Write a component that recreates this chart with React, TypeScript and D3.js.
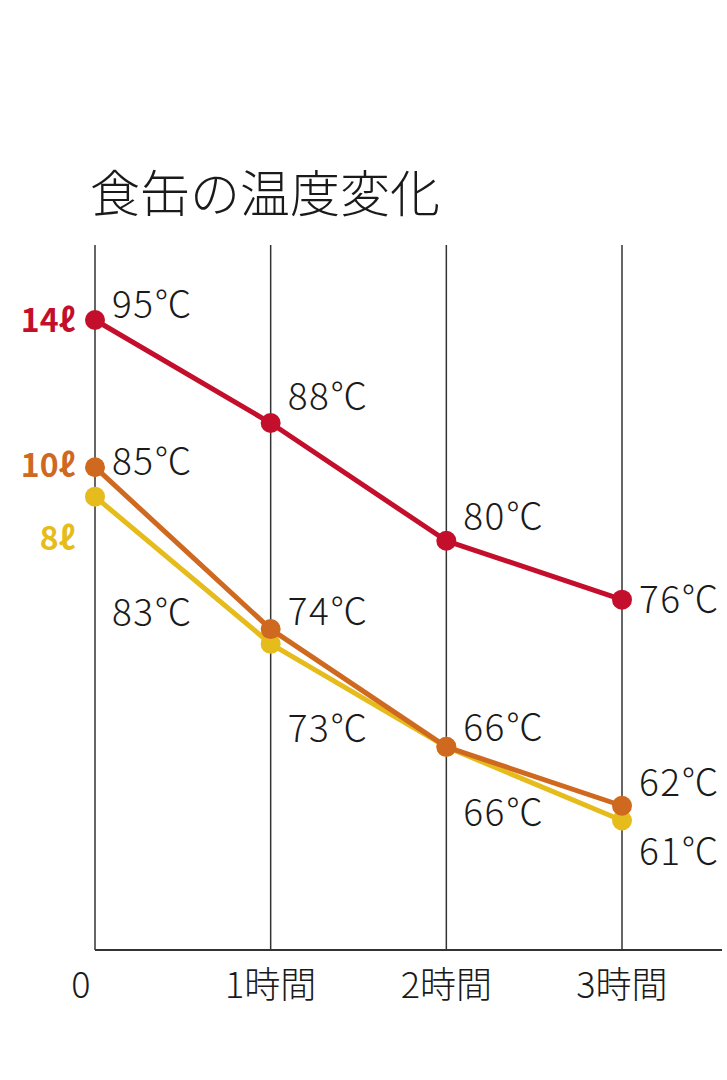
import * as d3 from "d3";
import React from "react";

const width = 727;
const height = 1080;

const title = "食缶の温度変化";
const hours = [0, 1, 2, 3];
const hourLabels = ["0", "1時間", "2時間", "3時間"];
const seriesNames = ["14ℓ", "10ℓ", "8ℓ"];
const temps14 = [95, 88, 80, 76];
const temps10 = [85, 74, 66, 62];
const temps8 = [83, 73, 66, 61];

const colors = ["#c40f2c", "#cf691f", "#e6bb1c"];
// label baseline offsets from each point (px), to mimic the original placement
const labelDy = [
  [-2, -13, -11, 13],
  [8, -4, -6, -10],
  [129, 98, 79, 45],
];
const nameDy = [12, 10, 53];
const font = "'Noto Sans CJK JP', 'Noto Sans', sans-serif";

const x = d3.scaleLinear().domain([0, 3]).range([95, 622]);
const y = d3.scaleLinear().domain([52.2, 95]).range([950, 320]);

const App = () => {
  const series = [temps14, temps10, temps8];
  const line = d3
    .line<number>()
    .x((d, i) => x(hours[i]))
    .y((d) => y(d));

  // yellow first so orange and red sit on top
  const order = [2, 1, 0];

  return (
    <svg
      width={width}
      height={height}
      style={{ position: "absolute", left: 0, top: 0, background: "white" }}
    >
      <rect width={width} height={height} fill="white" />
      <text x={90} y={212} fontSize={50} fontWeight={300} fontFamily={font} fill="#1a1a1a">
        {title}
      </text>

      {hours.map((h) => (
        <line
          key={h}
          x1={x(h)}
          x2={x(h)}
          y1={245}
          y2={y.range()[0]}
          stroke="#333"
          strokeWidth={1.5}
        />
      ))}
      <line
        x1={x(0)}
        x2={722}
        y1={y.range()[0]}
        y2={y.range()[0]}
        stroke="#333"
        strokeWidth={1.8}
      />

      {hourLabels.map((t, i) => (
        <text
          key={t}
          x={i === 0 ? x(0) - 14 : x(hours[i])}
          y={998}
          fontSize={36}
          fontWeight={300}
          fontFamily={font}
          textAnchor="middle"
          fill="#1a1a1a"
        >
          {t}
        </text>
      ))}

      {order.map((s) => (
        <g key={s}>
          <path
            d={line(series[s]) || ""}
            fill="none"
            stroke={colors[s]}
            strokeWidth={5}
            strokeLinejoin="round"
          />
          {series[s].map((v, i) => (
            <circle key={i} cx={x(hours[i])} cy={y(v)} r={10} fill={colors[s]} />
          ))}
        </g>
      ))}

      {series.map((vals, s) =>
        vals.map((v, i) => (
          <text
            key={`${s}-${i}`}
            x={x(hours[i]) + 17}
            y={y(v) + labelDy[s][i]}
            fontSize={37}
            fontWeight={300}
            letterSpacing={1.5}
            fontFamily={font}
            fill="#1a1a1a"
          >
            {`${v}℃`}
          </text>
        ))
      )}

      {seriesNames.map((n, s) => (
        <text
          key={n}
          x={75}
          y={y(series[s][0]) + nameDy[s]}
          fontSize={32}
          fontWeight="bold"
          fontFamily={font}
          textAnchor="end"
          fill={colors[s]}
        >
          {n}
        </text>
      ))}
    </svg>
  );
};

export default App;
